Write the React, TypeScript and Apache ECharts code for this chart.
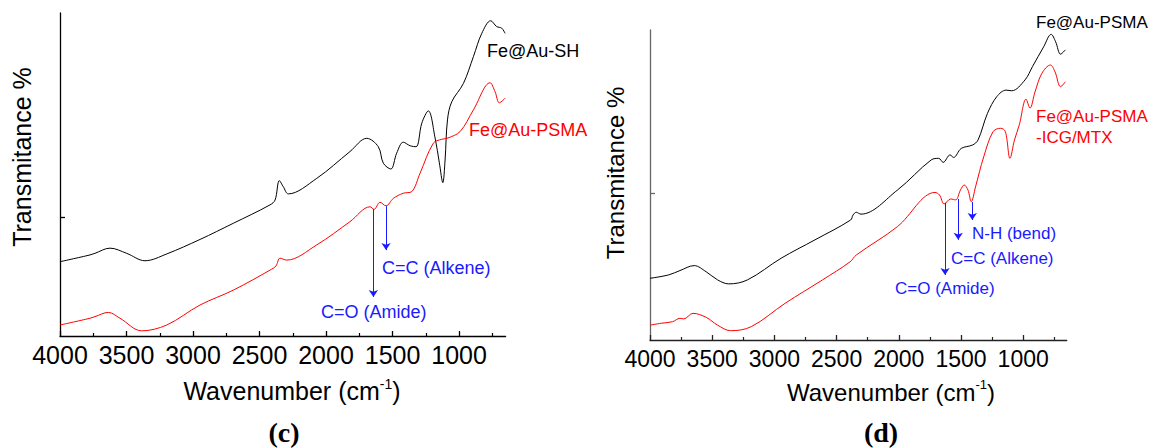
import React, { useEffect, useRef } from "react";
import * as echarts from "echarts";

// ---------- data: panel (c) ----------
const waveC_SH = [4000, 3774, 3737, 3624, 3499, 3361, 3198, 2947, 2697, 2421, 2383, 2351, 2321, 2283, 2070, 1820, 1694, 1607, 1569, 1513, 1469, 1419, 1368, 1323, 1280, 1231, 1180, 1148, 1122, 1105, 1087, 1055, 967, 892, 829, 762, 717, 679, 654];
const transC_SH = [23.0, 25.1, 25.6, 27.2, 25.6, 23.3, 25.4, 29.9, 34.9, 40.6, 42.1, 48.1, 46.2, 44.0, 48.8, 57.1, 61.2, 58.6, 53.5, 51.7, 56.6, 60.0, 58.9, 58.6, 65.9, 69.7, 61.3, 53.6, 47.5, 54.5, 66.9, 72.5, 78.2, 86.5, 93.7, 97.6, 95.8, 95.3, 93.7];

const waveC_PSMA = [4000, 3774, 3737, 3637, 3549, 3386, 3198, 2947, 2697, 2408, 2376, 2346, 2296, 2070, 1820, 1669, 1639, 1594, 1549, 1494, 1419, 1356, 1293, 1193, 1130, 1083, 992, 892, 767, 729, 697, 654];
const transC_PSMA = [3.4, 5.5, 6.0, 7.3, 5.5, 1.6, 3.4, 9.6, 14.2, 20.7, 21.7, 24.1, 23.5, 28.2, 35.4, 40.0, 39.2, 41.4, 40.3, 42.6, 44.2, 44.7, 50.4, 59.7, 60.9, 61.3, 63.3, 70.0, 78.4, 75.6, 72.2, 73.6];

const arrowWaveC = [1644, 1549];
const arrowFromC = [39.3, 40.2];
const arrowToC = [12.1, 26.6];
const yTickC = [36.8];

// ---------- data: panel (d) ----------
const waveD_PSMA = [4000, 3850, 3759, 3645, 3548, 3457, 3367, 3216, 2945, 2674, 2387, 2368, 2342, 2304, 2010, 1739, 1679, 1643, 1588, 1559, 1498, 1407, 1363, 1287, 1212, 1137, 1092, 985, 925, 835, 775, 739, 699, 661];
const transD_PSMA = [19.9, 21.0, 22.4, 24.0, 22.0, 19.4, 18.1, 19.4, 26.4, 32.3, 38.7, 40.3, 41.2, 40.6, 48.4, 58.1, 58.6, 57.3, 59.7, 58.9, 61.8, 62.9, 64.5, 73.1, 78.5, 80.6, 80.4, 83.9, 88.2, 94.6, 98.6, 96.2, 92.2, 93.6];

const waveD_ICG = [4000, 3910, 3819, 3759, 3729, 3654, 3548, 3457, 3352, 3186, 2915, 2613, 2392, 2342, 2010, 1709, 1673, 1635, 1583, 1543, 1504, 1474, 1444, 1417, 1383, 1317, 1242, 1181, 1143, 1106, 1070, 1031, 977, 945, 905, 850, 781, 744, 699, 661];
const transD_ICG = [4.8, 5.4, 5.9, 7.0, 6.8, 8.6, 7.3, 4.8, 3.0, 4.3, 11.8, 19.4, 25.2, 27.4, 36.6, 47.6, 46.8, 43.9, 45.5, 45.2, 48.4, 50.0, 48.4, 44.6, 49.4, 59.1, 67.2, 68.3, 67.2, 58.6, 64.5, 69.4, 77.7, 74.8, 80.0, 86.0, 88.7, 86.5, 81.7, 83.3];

const arrowWaveD = [1628, 1522, 1409];
const arrowFromD = [44.2, 45.5, 44.5];
const arrowToD = [21.0, 32.3, 38.7];
const yTickD = [47.4];

// ---------- axis ticks ----------
const majorTicks = [4000, 3500, 3000, 2500, 2000, 1500, 1000];
const minorTicks = [3750, 3250, 2750, 2250, 1750, 1250, 750];
const waveMin = 650;
const waveMax = 4000;

const FONT = "'Liberation Sans', Arial, sans-serif";
const SERIF = "'Liberation Serif', 'Times New Roman', serif";
const BLUE = "#1a1aff";
const RED = "#ff0000";

const zip = (w: number[], v: number[]) => w.map((x, i) => [x, v[i]]);

function arrows(w: number[], from: number[], to: number[]) {
  return w.map((x, i) => [{ coord: [x, from[i]] }, { coord: [x, to[i]] }]);
}

function majorAxis(grid: number, fontSize: number, margin: number, lineColor: string) {
  return {
    type: "value",
    gridIndex: grid,
    min: waveMin,
    max: waveMax,
    inverse: true,
    position: "bottom",
    splitLine: { show: false },
    axisLine: { show: true, lineStyle: { color: lineColor, width: 1.3 } },
    axisTick: { show: true, inside: true, length: 5, customValues: majorTicks, lineStyle: { color: lineColor, width: 1.3 } },
    axisLabel: {
      show: true,
      customValues: majorTicks,
      margin,
      color: "#000",
      fontSize,
      fontFamily: FONT,
      formatter: (v: number) => String(v),
    },
  };
}

function minorAxis(grid: number, lineColor: string) {
  return {
    type: "value",
    gridIndex: grid,
    min: waveMin,
    max: waveMax,
    inverse: true,
    position: "bottom",
    splitLine: { show: false },
    axisLine: { show: false },
    axisTick: { show: true, inside: true, length: 3, customValues: minorTicks, lineStyle: { color: lineColor, width: 1.2 } },
    axisLabel: { show: false },
  };
}

function yAxis(grid: number, ticks: number[], lineColor: string) {
  return {
    type: "value",
    gridIndex: grid,
    min: 0,
    max: 100,
    splitLine: { show: false },
    axisLine: { show: true, lineStyle: { color: lineColor, width: 1.3 } },
    axisTick: { show: true, inside: true, length: 5, customValues: ticks, lineStyle: { color: lineColor, width: 1.3 } },
    axisLabel: { show: false },
  };
}

function lineSeries(name: string, x: number, y: number, data: number[][], color: string, markLine?: any) {
  return {
    name,
    type: "line",
    xAxisIndex: x,
    yAxisIndex: y,
    data,
    showSymbol: false,
    symbol: "none",
    smooth: 0.35,
    lineStyle: { color, width: 1 },
    itemStyle: { color },
    silent: true,
    markLine,
  };
}

function arrowMark(data: any[]) {
  return {
    silent: true,
    symbol: ["none", "arrow"],
    symbolSize: 7,
    lineStyle: { color: BLUE, width: 1, type: "solid" },
    label: { show: false },
    data,
  };
}

function label(text: string, x: number, y: number, color: string, size: number) {
  return {
    type: "text",
    x,
    y,
    style: { text, fill: color, font: `${size}px ${FONT}`, align: "left", verticalAlign: "middle" },
  };
}

function xTitle(x: number, y: number, size: number) {
  return {
    type: "text",
    x,
    y,
    style: {
      text: "{m|Wavenumber (cm}{s|-1}{m|)}",
      align: "center",
      verticalAlign: "middle",
      fill: "#000",
      rich: {
        m: { fontSize: size, fontFamily: FONT, lineHeight: size + 4, fill: "#000" },
        s: { fontSize: Math.round(size * 0.56), fontFamily: FONT, lineHeight: Math.round(size * 0.6), verticalAlign: "top", fill: "#000" },
      },
    },
  };
}

function yTitle(x: number, y: number, size: number) {
  return {
    type: "text",
    x,
    y,
    rotation: Math.PI / 2,
    style: { text: "Transmitance %", fill: "#000", font: `${size}px ${FONT}`, align: "center", verticalAlign: "middle" },
  };
}

export default function App() {
  const ref = useRef<HTMLDivElement>(null);

  useEffect(() => {
    if (!ref.current) return;
    const chart = echarts.init(ref.current, undefined, { renderer: "svg" });
    const option: any = {
      animation: false,
      backgroundColor: "#ffffff",
      grid: [
        { left: 60, top: 13, width: 445.6, height: 323, containLabel: false, outerBoundsMode: "none" },
        { left: 650, top: 30, width: 416.7, height: 310, containLabel: false, outerBoundsMode: "none" },
      ],
      xAxis: [
        majorAxis(0, 25, 6, "#000"),
        minorAxis(0, "#000"),
        majorAxis(1, 23, 7, "#222"),
        minorAxis(1, "#222"),
      ],
      yAxis: [yAxis(0, yTickC, "#000"), yAxis(1, yTickD, "#666")],
      series: [
        lineSeries("Fe@Au-SH", 0, 0, zip(waveC_SH, transC_SH), "#000"),
        lineSeries("Fe@Au-PSMA", 0, 0, zip(waveC_PSMA, transC_PSMA), RED, arrowMark(arrows(arrowWaveC, arrowFromC, arrowToC))),
        lineSeries("Fe@Au-PSMA (d)", 2, 1, zip(waveD_PSMA, transD_PSMA), "#000"),
        lineSeries("Fe@Au-PSMA-ICG/MTX", 2, 1, zip(waveD_ICG, transD_ICG), RED, arrowMark(arrows(arrowWaveD, arrowFromD, arrowToD))),
      ],
      graphic: [
        yTitle(22, 157, 25),
        yTitle(615, 173, 24),
        xTitle(292, 391, 25),
        xTitle(891, 392, 24),
        {
          type: "text", x: 284, y: 432,
          style: { text: "(c)", fill: "#000", font: `bold 28px ${SERIF}`, align: "center", verticalAlign: "middle" },
        },
        {
          type: "text", x: 881, y: 432,
          style: { text: "(d)", fill: "#000", font: `bold 28px ${SERIF}`, align: "center", verticalAlign: "middle" },
        },
        label("Fe@Au-SH", 487, 51, "#000", 18),
        label("Fe@Au-PSMA", 469, 130, RED, 18),
        label("C=C (Alkene)", 382, 268, BLUE, 18),
        label("C=O (Amide)", 321, 312, BLUE, 18),
        label("Fe@Au-PSMA", 1036, 22, "#000", 17),
        label("Fe@Au-PSMA", 1036, 116, RED, 17),
        label("-ICG/MTX", 1036, 137, RED, 17),
        label("N-H (bend)", 972, 233, BLUE, 17),
        label("C=C (Alkene)", 951, 258, BLUE, 17),
        label("C=O (Amide)", 895, 288, BLUE, 17),
      ],
    };
    chart.setOption(option);
    return () => chart.dispose();
  }, []);

  return (
    <div
      ref={ref}
      style={{ position: "fixed", left: 0, top: 0, width: 1149, height: 448, background: "#fff" }}
    />
  );
}
